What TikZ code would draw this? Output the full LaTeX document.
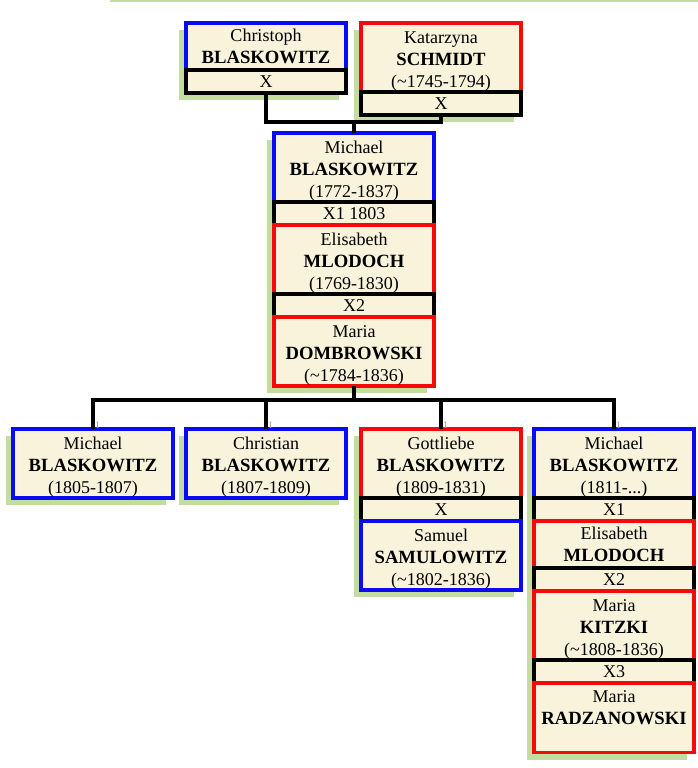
\documentclass[tikz,border=0pt]{standalone}
\usepackage{fontspec}
\setmainfont{Liberation Serif}
\usepackage{tikz}
\usetikzlibrary{positioning,shadows,calc}

\definecolor{cream}{HTML}{F9F3DC}
\definecolor{leaf}{HTML}{C3DCA0}
\definecolor{manblue}{HTML}{0A0AF5}
\definecolor{womanred}{HTML}{F50A0A}
\newcommand{\famname}[1]{{\fontsize{14}{16.5}\selectfont\bfseries #1}}
\newcommand{\toprule}{\rule{0pt}{14.3pt}}

\begin{document}
\begin{tikzpicture}[
  x=0.75pt, y=-0.75pt,
  pers/.style={draw=#1, fill=cream, line width=2.3pt, inner sep=0pt, outer sep=0pt,
    minimum width=120pt, minimum height=51.75pt, align=center,
    font=\fontsize{13.5}{16.5}\selectfont,
    drop shadow={fill=leaf, opacity=1, shadow xshift=-5.5pt, shadow yshift=-5.5pt}},
  short/.style={minimum height=35.25pt},
  wed/.style={draw=black, fill=cream, line width=2.3pt, inner sep=0pt, outer sep=0pt,
    minimum width=120pt, minimum height=17.25pt, align=center,
    font=\fontsize{13.5}{15}\selectfont,
    drop shadow={fill=leaf, opacity=1, shadow xshift=-5.5pt, shadow yshift=-5.5pt}},
  link/.style={draw=black, line width=2.3pt},
  onemark/.style={font=\fontsize{7.5}{7.5}\selectfont, text=gray!80, inner sep=0.5pt,
    anchor=south west, xshift=0.8pt}
]
\useasboundingbox (0,0) rectangle (698,768);
\draw[leaf, line width=1.5pt] (110,1) -- (698,1);
%% ─── Grandparents ──────────────────────────────────────────────────────────
\node[pers=manblue, short] (chr)  at (266,46.5) {Christoph\\\famname{BLASKOWITZ}};
\node[wed, below=0pt of chr]  (chrx) {X};
\node[pers=womanred]       (kat)  at (441,57.5) {\toprule Katarzyna\\\famname{SCHMIDT}\\(\textasciitilde1745-1794)};
\node[wed, below=0pt of kat]  (katx) {X};
%% ─── Michael and his wives ─────────────────────────────────────────────────
\node[pers=manblue]  (mic)  at (354,167.5) {\toprule Michael\\\famname{BLASKOWITZ}\\(1772-1837)};
\node[wed, below=0pt of mic]      (micx1) {X1 1803};
\node[pers=womanred, below=0pt of micx1] (eli)  {\toprule Elisabeth\\\famname{MLODOCH}\\(1769-1830)};
\node[wed, below=0pt of eli]      (micx2) {X2};
\node[pers=womanred, below=0pt of micx2] (dom)  {\toprule Maria\\\famname{DOMBROWSKI}\\(\textasciitilde1784-1836)};
%% ─── Children ──────────────────────────────────────────────────────────────
\node[pers=manblue]  (c1) at (93,463.5)  {\toprule Michael\\\famname{BLASKOWITZ}\\(1805-1807)};
\node[pers=manblue]  (c2) at (266,463.5) {\toprule Christian\\\famname{BLASKOWITZ}\\(1807-1809)};
\node[pers=womanred] (c3) at (441,463.5) {\toprule Gottliebe\\\famname{BLASKOWITZ}\\(1809-1831)};
\node[wed, below=0pt of c3]       (c3x) {X};
\node[pers=manblue, below=0pt of c3x]  (sam) {\toprule Samuel\\\famname{SAMULOWITZ}\\(\textasciitilde1802-1836)};
\node[pers=manblue]  (c4) at (614,463.5) {\toprule Michael\\\famname{BLASKOWITZ}\\(1811-...)};
\node[wed, below=0pt of c4]       (c4x1) {X1};
\node[pers=womanred, short, below=0pt of c4x1] (c4w1) {Elisabeth\\\famname{MLODOCH}};
\node[wed, below=0pt of c4w1]     (c4x2) {X2};
\node[pers=womanred, below=0pt of c4x2] (c4w2) {\toprule Maria\\\famname{KITZKI}\\(\textasciitilde1808-1836)};
\node[wed, below=0pt of c4w2]     (c4x3) {X3};
\node[pers=womanred, below=0pt of c4x3] (c4w3) {\toprule Maria\\\famname{RADZANOWSKI}\\\strut};
%% ─── Connectors ────────────────────────────────────────────────────────────
\coordinate (pj) at (354,122);
\coordinate (kj) at (354,400);
\draw[link] (chrx.south) |- (pj) -| (katx.south);
\draw[link] (pj) -- (mic.north);
\draw[link] (dom.south) -- (kj);
\draw[link] (c1.north) |- (kj) -| (c4.north);
\draw[link] (c2.north) |- (kj);
\draw[link] (c3.north) |- (kj);
\foreach \c in {c1,c2,c3,c4}
  \node[onemark] at (\c.north) {1};
\end{tikzpicture}
\end{document}
